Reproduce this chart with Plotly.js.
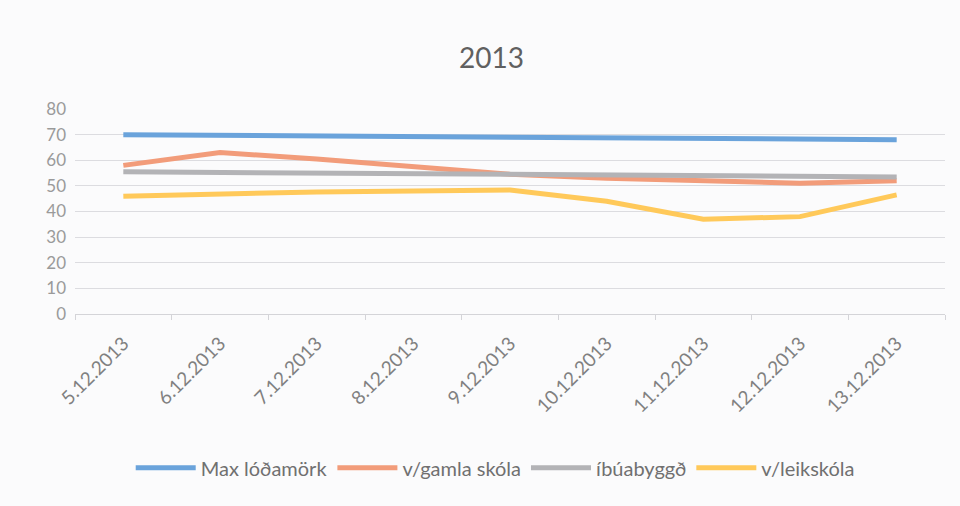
<!DOCTYPE html>
<html>
<head>
<meta charset="utf-8">
<script src="https://cdn.plot.ly/plotly-3.0.1.min.js"></script>
<style>
  html, body { margin: 0; padding: 0; background: #fbfbfc; }
  #chart { width: 960px; height: 506px; }
</style>
</head>
<body>
<div id="chart"></div>
<script>
// dates on the x axis
const DATES = ['5.12.2013', '6.12.2013', '7.12.2013', '8.12.2013', '9.12.2013',
               '10.12.2013', '11.12.2013', '12.12.2013', '13.12.2013'];

// series
const MAX_LODAMORK = [70, 69.8, 69.6, 69.3, 69, 68.8, 68.6, 68.3, 68];
const GAMLA_SKOLA  = [58, 63, 60.5, 57.5, 54.5, 53, 52, 51, 52];
const IBUABYGGD    = [55.5, 55.3, 55, 54.8, 54.5, 54.3, 54, 53.8, 53.5];
const LEIKSKOLA    = [46, 47, 47.6, 48, 48.4, 44, 37, 38, 46.5];

const NAMES  = ['Max lóðamörk', 'v/gamla skóla', 'íbúabyggð', 'v/leikskóla'];
const COLORS = ['#6aa3db', '#f29c7a', '#b3b3b6', '#ffc95a'];

const series = [MAX_LODAMORK, GAMLA_SKOLA, IBUABYGGD, LEIKSKOLA];

const traces = series.map((ys, i) => ({
  x: DATES, y: ys,
  name: NAMES[i],
  mode: 'lines',
  line: { color: COLORS[i], width: 5 }
}));

const layout = {
  width: 960, height: 506,
  paper_bgcolor: '#fbfbfc',
  plot_bgcolor: '#fbfbfc',
  font: { family: 'Lato, "Open Sans", sans-serif', color: '#8a8a8a', size: 15 },
  title: {
    text: '2013',
    font: { size: 28, color: '#606060' },
    x: 0.512, xanchor: 'center',
    y: 0.885, yanchor: 'middle'
  },
  margin: { l: 75, r: 15, t: 109, b: 192 },
  xaxis: {
    type: 'category',
    range: [-0.5, DATES.length - 0.5],
    tickangle: -45,
    showgrid: false,
    showline: true, linecolor: '#d4d4d8', linewidth: 1,
    ticks: 'outside', tickson: 'boundaries', ticklen: 5, tickcolor: '#d4d4d8',
    tickfont: { size: 19, color: '#808080' },
    ticklabelstandoff: 10
  },
  yaxis: {
    range: [0, 80], dtick: 10,
    gridcolor: '#dcdce0', gridwidth: 1,
    zeroline: false,
    tickfont: { size: 17, color: '#9a9a9a' },
    ticklabelstandoff: 8
  },
  showlegend: true,
  legend: {
    orientation: 'h',
    x: 0.483, xanchor: 'center',
    y: -0.75, yanchor: 'middle',
    font: { size: 20, color: '#707070' },
    itemwidth: 60,
    bgcolor: 'rgba(0,0,0,0)'
  }
};

Plotly.newPlot('chart', traces, layout, { displayModeBar: false, staticPlot: true });
</script>
</body>
</html>
